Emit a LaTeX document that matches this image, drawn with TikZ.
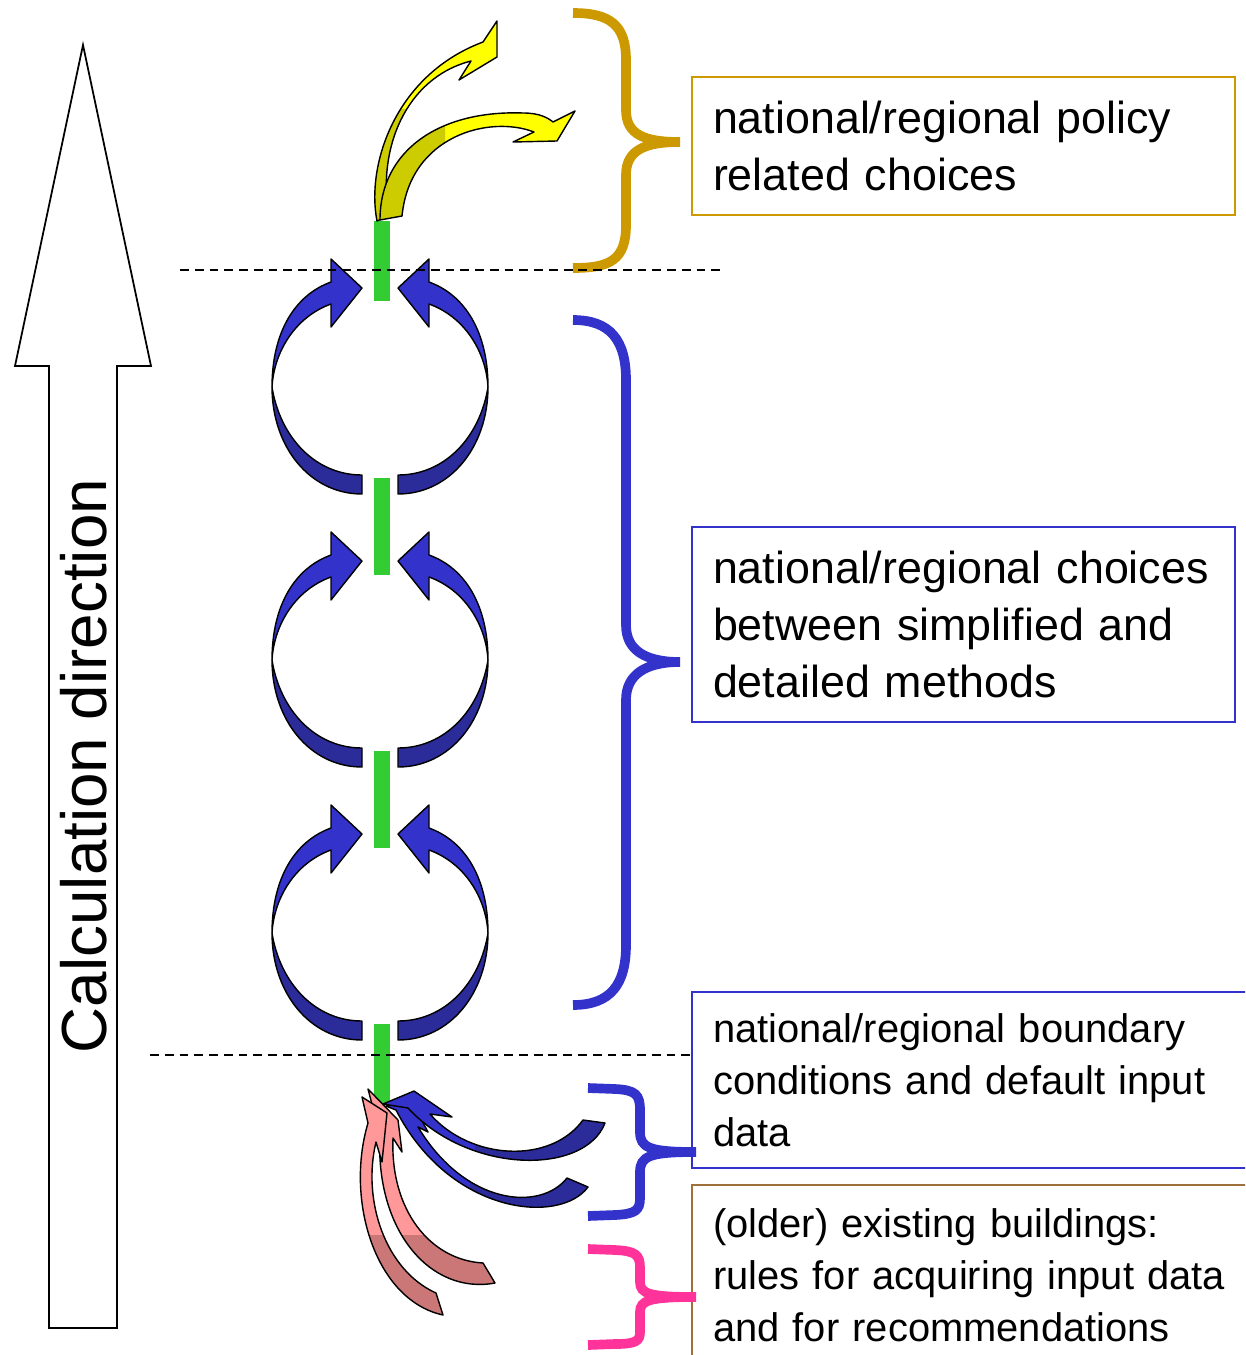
\documentclass[tikz,border=0pt]{standalone}
\usepackage{fontspec}
\setmainfont{Liberation Sans}
\usepackage{tikz}
\definecolor{vert}{HTML}{33CC33}
\definecolor{bleu}{HTML}{3333CC}
\definecolor{bleufonce}{HTML}{2B2B99}
\definecolor{jaune}{HTML}{FFFF00}
\definecolor{jaunefonce}{HTML}{CCCC00}
\definecolor{rose}{HTML}{FF9999}
\definecolor{rosefonce}{HTML}{CC7777}
\definecolor{or}{HTML}{CC9900}
\definecolor{fuchsia}{HTML}{FF3399}
\definecolor{brun}{HTML}{A0703C}

% Formes des fleches courbes.
\newcommand{\jauneA}{(377,221) .. controls (366,165) and (395,75) .. (483,42) -- (497,21) -- (497,57) -- (459,80) -- (471,61) .. controls (405,78) and (377,150) .. (389,216) -- cycle}
\newcommand{\jauneB}{(380,220) .. controls (380,150) and (440,110) .. (523,113) .. controls (540,113) and (548,118) .. (553,122) -- (575,111) -- (557,141) -- (513,142) -- (534,132) .. controls (490,115) and (410,135) .. (402,216) -- cycle}
\newcommand{\bleuA}{(383,1104) -- (414,1091) -- (452,1117) -- (430,1114) .. controls (470,1160) and (550,1165) .. (583,1120) -- (605,1123) .. controls (585,1175) and (470,1175) .. (408,1108) -- cycle}
\newcommand{\bleuB}{(386,1106) -- (412,1102) -- (428,1132) -- (418,1127) .. controls (465,1205) and (540,1212) .. (567,1178) -- (588,1187) .. controls (560,1225) and (450,1215) .. (396,1110) -- cycle}
\newcommand{\roseC}{(362,1097) -- (387,1113) -- (382,1162) -- (376,1142) .. controls (362,1200) and (385,1270) .. (436,1293) -- (443,1315) .. controls (375,1300) and (345,1200) .. (368,1123) -- cycle}
\newcommand{\roseD}{(368,1089) -- (398,1120) -- (402,1152) -- (393,1138) .. controls (390,1210) and (430,1260) .. (483,1263) -- (495,1283) .. controls (430,1295) and (375,1230) .. (380,1135) -- cycle}
\newcommand{\ruban}[4]{%
  \fill[#2] #1;
  \begin{scope}
    \clip #4;
    \fill[#3] #1;
  \end{scope}
  \draw[contour] #1;}

\begin{document}
\begin{tikzpicture}[x=0.02cm,y=-0.02cm,
    contour/.style={draw=black,line width=0.8pt,line join=round},
    accolade/.style={line width=5.5pt},
    pointille/.style={line width=0.9pt,dash pattern=on 5pt off 3.4pt},
    boite/.style={line width=1pt,inner xsep=0.42cm,inner ysep=0pt,align=left},
    grand/.style={font=\fontsize{25.5}{32.3}\selectfont},
    petit/.style={font=\fontsize{22.7}{29.5}\selectfont}]
  \useasboundingbox (0,0) rectangle (1245,1355);
  \clip (0,0) rectangle (1245,1355);

  % Grande fleche.
  \draw[line width=1pt] (83,45) -- (151,366) -- (117,366) -- (117,1328)
    -- (49,1328) -- (49,366) -- (15,366) -- cycle;
  \node[rotate=90,anchor=base,inner sep=0pt,font=\fontsize{36.3}{40}\selectfont]
    (sens) at (106,766) {Calculation direction};

  % Boites.
  \node[boite,grand,draw=or,text width=10.02cm,minimum height=2.76cm]
    (politique) at (963.5,146) {national/regional policy\\related choices};
  \node[boite,grand,draw=bleu,text width=10.02cm,minimum height=3.9cm]
    (methodes) at (963.5,624.5) {national/regional choices\\between simplified and\\detailed methods};
  \node[boite,petit,draw=bleu,text width=10.32cm,minimum height=3.52cm]
    (limites) at (971,1080) {national/regional boundary\\conditions and default input\\data};
  \node[boite,petit,draw=brun,text width=10.32cm,minimum height=3.6cm]
    (existants) at (971,1275) {(older) existing buildings:\\rules for acquiring input data\\and for recommendations};

  % Accolades.
  \draw[accolade,or] (573,13) .. controls (610,13) and (626,25) .. (626,60)
    -- (626,110) .. controls (626,135) and (645,142) .. (680,142)
    .. controls (645,142) and (626,150) .. (626,175)
    -- (626,225) .. controls (626,260) and (610,268) .. (573,268);
  \draw[accolade,bleu] (573,320) .. controls (610,320) and (626,340) .. (626,380)
    -- (626,625) .. controls (626,650) and (645,662) .. (680,662)
    .. controls (645,662) and (626,675) .. (626,700)
    -- (626,945) .. controls (626,985) and (610,1005) .. (573,1005);
  \draw[accolade,bleu] (588,1088) -- (615,1089) .. controls (636,1090) and (640,1095) .. (640,1110)
    -- (640,1132) .. controls (640,1148) and (650,1152) .. (696,1152)
    .. controls (650,1152) and (640,1156) .. (640,1172)
    -- (640,1198) .. controls (640,1210) and (636,1214) .. (615,1215) -- (588,1216);
  \draw[accolade,fuchsia] (588,1249) -- (615,1250) .. controls (636,1251) and (640,1255) .. (640,1268)
    -- (640,1282) .. controls (640,1294) and (650,1297) .. (696,1297)
    .. controls (650,1297) and (640,1300) .. (640,1312)
    -- (640,1332) .. controls (640,1341) and (636,1344) .. (615,1344) -- (588,1345);

  % Barres.
  \foreach \ya/\yb in {221/301,478/575,751/848,1024/1104}
    \fill[vert] (374,\ya) rectangle (390,\yb);

  % Boucles.
  \foreach \cy in {387,660,933} {
    \begin{scope}[shift={(380,\cy)}]
      \foreach \s in {1,-1} {
        \begin{scope}[xscale=\s]
          \filldraw[contour,fill=bleu] (-108,0) .. controls (-108,-55) and (-85,-92) .. (-49,-105)
            -- (-49,-128) -- (-18,-99) -- (-49,-60) -- (-49,-83)
            .. controls (-85,-70) and (-106,-35) .. (-108,0) -- cycle;
          \filldraw[contour,fill=bleufonce] (-108,0) .. controls (-108,60) and (-70,107) .. (-18,107)
            -- (-18,88) .. controls (-65,88) and (-100,50) .. (-108,0) -- cycle;
        \end{scope}
      }
    \end{scope}
  }

  % Haut.
  \ruban{\jauneA}{jaune}{jaunefonce}{(300,110) rectangle (520,240)}
  \ruban{\jauneB}{jaune}{jaunefonce}{(300,100) rectangle (445,240)}

  % Bas.
  \ruban{\roseD}{rose}{rosefonce}{(300,1235) rectangle (520,1340)}
  \ruban{\roseC}{rose}{rosefonce}{(300,1235) rectangle (520,1340)}
  \ruban{\bleuB}{bleu}{bleufonce}{(470,1100) rectangle (620,1240)}
  \ruban{\bleuA}{bleu}{bleufonce}{(475,1080) rectangle (620,1200)}

  % Separations.
  \draw[pointille] (180,270) -- (722,270);
  \draw[pointille] (150,1055) -- (limites.west |- 0,1055);
\end{tikzpicture}
\end{document}
